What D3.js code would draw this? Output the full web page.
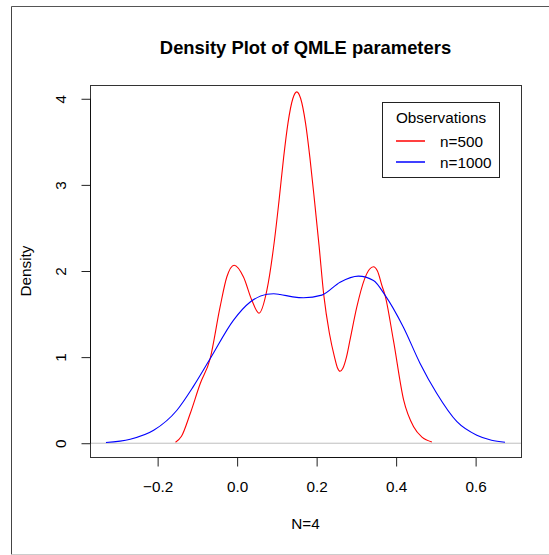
<!DOCTYPE html>
<html>
<head>
<meta charset="utf-8">
<script src="https://cdn.jsdelivr.net/npm/d3@7"></script>
<style>
  body { margin: 0; background: #fff; }
  text { font-family: "Liberation Sans", Arial, sans-serif; fill: #000; }
</style>
</head>
<body>
<script>
// Density estimates (x, density)
var red500X = [-0.155, -0.140, -0.118, -0.093, -0.068, -0.043, -0.026, -0.0075, 0.016, 0.037,
  0.055, 0.075, 0.094, 0.105, 0.117, 0.128, 0.140, 0.150, 0.160, 0.172,
  0.183, 0.195, 0.206, 0.218, 0.232, 0.245, 0.252, 0.259, 0.266, 0.275,
  0.284, 0.301, 0.320, 0.333, 0.343, 0.353, 0.365, 0.372, 0.393, 0.419,
  0.444, 0.465, 0.490];
var red500Y = [0.012, 0.08, 0.345, 0.69, 0.98, 1.58, 1.93, 2.067, 1.93, 1.66,
  1.51, 1.78, 2.36, 2.80, 3.32, 3.72, 4.00, 4.08, 4.00, 3.72,
  3.32, 2.80, 2.30, 1.72, 1.28, 1.00, 0.88, 0.836, 0.87, 1.00,
  1.20, 1.58, 1.90, 2.02, 2.05, 2.00, 1.82, 1.72, 1.20, 0.50,
  0.19, 0.07, 0.015];

var blue1000X = [-0.330, -0.269, -0.210, -0.152, -0.110, -0.068, -0.009, 0.033, 0.075, 0.092,
  0.108, 0.140, 0.167, 0.213, 0.259, 0.305, 0.343, 0.372, 0.418, 0.460,
  0.502, 0.553, 0.603, 0.640, 0.674];
var blue1000Y = [0.008, 0.046, 0.15, 0.38, 0.66, 0.98, 1.43, 1.64, 1.73, 1.735,
  1.727, 1.70, 1.69, 1.72, 1.87, 1.94, 1.89, 1.72, 1.35, 0.93,
  0.58, 0.25, 0.093, 0.035, 0.012];

var xTicks = [-0.2, 0.0, 0.2, 0.4, 0.6];
var yTicks = [0, 1, 2, 3, 4];
var seriesNames = ["n=500", "n=1000"];
var seriesColors = ["#FF0000", "#0000FF"];

var W = 549, H = 555;
var box = { left: 90, right: 521, top: 85, bottom: 457 };

var svg = d3.select("body").append("svg")
    .attr("width", W)
    .attr("height", H);

// device frame (screenshot border)
svg.append("line").attr("x1", 11.5).attr("x2", W).attr("y1", 6.5).attr("y2", 6.5)
    .style("stroke", "#555");
svg.append("line").attr("x1", 11.5).attr("x2", 11.5).attr("y1", 6.5).attr("y2", 554.5)
    .style("stroke", "#444");
svg.append("line").attr("x1", 11.5).attr("x2", W).attr("y1", 554.5).attr("y2", 554.5)
    .style("stroke", "#ccc");

// scales with R's 4% padding
var xlim = [-0.330, 0.674], ylim = [0, 4];
var xpad = (xlim[1] - xlim[0]) * 0.04, ypad = (ylim[1] - ylim[0]) * 0.04;
var x = d3.scaleLinear()
    .domain([xlim[0] - xpad, xlim[1] + xpad])
    .range([box.left, box.right]);
var y = d3.scaleLinear()
    .domain([ylim[0] - ypad, ylim[1] + ypad])
    .range([box.bottom, box.top]);

// zero line
svg.append("line")
    .attr("x1", box.left).attr("x2", box.right)
    .attr("y1", y(0)).attr("y2", y(0))
    .style("stroke", "#BEBEBE");

// curves
var line = d3.line()
    .x(d => x(d[0]))
    .y(d => y(d[1]))
    .curve(d3.curveMonotoneX);

var series = [
    d3.zip(red500X, red500Y),
    d3.zip(blue1000X, blue1000Y)
];
svg.selectAll(".curve")
    .data(series)
    .enter()
    .append("path")
    .attr("class", "curve")
    .attr("d", line)
    .style("fill", "none")
    .style("stroke", (d, i) => seriesColors[i])
    .style("stroke-width", 1.1);

// plot box
svg.append("rect")
    .attr("x", box.left + 0.5).attr("y", box.top + 0.5)
    .attr("width", box.right - box.left).attr("height", box.bottom - box.top)
    .style("fill", "none")
    .style("stroke", "#333");

var fmt = d3.format(".1f");

// x axis
var xAxis = svg.append("g")
    .attr("transform", "translate(0," + (box.bottom + 0.5) + ")")
    .call(d3.axisBottom(x).tickValues(xTicks).tickSize(9).tickPadding(15).tickFormat(fmt));
xAxis.select(".domain").remove();
xAxis.selectAll(".tick line").style("stroke", "#222");
xAxis.selectAll("text")
    .style("font-size", "15.3px")
    .attr("font-family", null);
svg.append("line")
    .attr("x1", x(xTicks[0])).attr("x2", x(xTicks[xTicks.length - 1]))
    .attr("y1", box.bottom + 0.5).attr("y2", box.bottom + 0.5)
    .style("stroke", "#111");

// y axis
var yAxis = svg.append("g")
    .attr("transform", "translate(" + (box.left + 0.5) + ",0)")
    .call(d3.axisLeft(y).tickValues(yTicks).tickSize(9).tickFormat(d3.format("d")));
yAxis.select(".domain").remove();
yAxis.selectAll(".tick line").style("stroke", "#222");
yAxis.selectAll("text")
    .attr("x", null).attr("dy", null)
    .attr("text-anchor", "middle")
    .attr("transform", "translate(-25,0) rotate(-90)")
    .style("font-size", "15.3px");
svg.append("line")
    .attr("x1", box.left + 0.5).attr("x2", box.left + 0.5)
    .attr("y1", y(yTicks[0])).attr("y2", y(yTicks[yTicks.length - 1]))
    .style("stroke", "#111");

// titles
svg.append("text")
    .attr("x", (box.left + box.right) / 2)
    .attr("y", 54)
    .attr("text-anchor", "middle")
    .style("font-size", "18.4px")
    .style("font-weight", "bold")
    .text("Density Plot of QMLE parameters");

svg.append("text")
    .attr("x", (box.left + box.right) / 2)
    .attr("y", 529)
    .attr("text-anchor", "middle")
    .style("font-size", "15.3px")
    .text("N=4");

svg.append("text")
    .attr("transform", "translate(30.5," + ((box.top + box.bottom) / 2) + ") rotate(-90)")
    .attr("text-anchor", "middle")
    .style("font-size", "15.3px")
    .text("Density");

// legend
var lg = svg.append("g").attr("class", "legend");
lg.append("rect")
    .attr("x", 382.5).attr("y", 102.5)
    .attr("width", 117).attr("height", 75)
    .style("fill", "#fff")
    .style("stroke", "#222");
lg.append("text")
    .attr("x", 441).attr("y", 123)
    .attr("text-anchor", "middle")
    .style("font-size", "15.3px")
    .text("Observations");
var rows = lg.selectAll(".row")
    .data(seriesNames)
    .enter()
    .append("g")
    .attr("class", "row")
    .attr("transform", (d, i) => "translate(0," + (141 + i * 21) + ")");
rows.append("line")
    .attr("x1", 396).attr("x2", 425)
    .style("stroke", (d, i) => seriesColors[i])
    .style("stroke-width", 1.5);
rows.append("text")
    .attr("x", 440).attr("y", 5.5)
    .style("font-size", "15.3px")
    .text(d => d);
</script>
</body>
</html>
